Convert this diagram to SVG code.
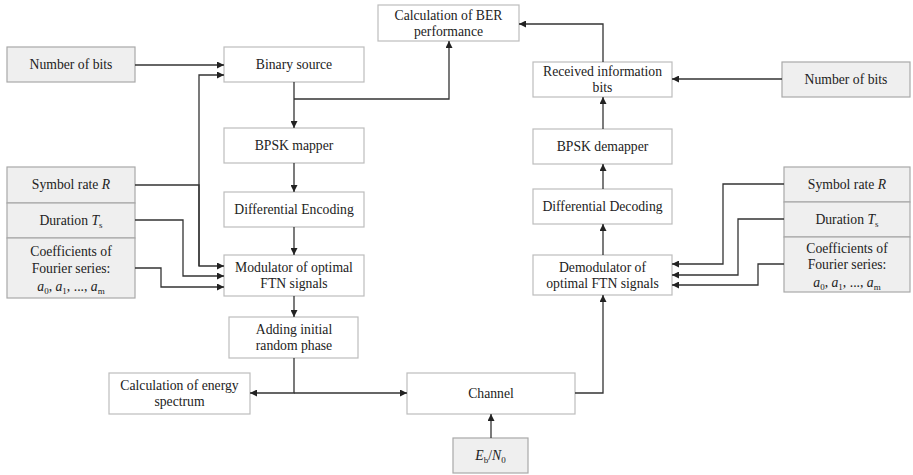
<svg xmlns="http://www.w3.org/2000/svg" width="913" height="475" viewBox="0 0 913 475" font-family="'Liberation Serif', serif">
<style>
.box{fill:#fff;stroke:#bdbdbd;stroke-width:1.2}
.inp{fill:#efefef;stroke:#a8a8a8;stroke-width:1.2}
text{font-family:'Liberation Serif','DejaVu Serif',serif;font-size:13.7px;fill:#222;text-anchor:middle}
.it{font-style:italic}
.sub{font-size:9px}
.wire{fill:none;stroke:#333;stroke-width:1.3}
</style>
<defs>
<marker id="ah" viewBox="0 0 10 10" refX="10" refY="5" markerWidth="7" markerHeight="7" markerUnits="userSpaceOnUse" orient="auto">
<path d="M0,0 L10,5 L0,10 Z" fill="#222"/>
</marker>
</defs>

<!-- transmitter chain -->
<g id="ber"><rect class="box" x="378" y="5" width="141" height="36"/><text x="448.5" y="20">Calculation of BER</text><text x="448.5" y="36">performance</text></g>
<g id="nbits-left"><rect class="inp" x="7" y="47" width="128" height="35"/><text x="71" y="69">Number of bits</text></g>
<g id="binary-source"><rect class="box" x="224" y="47" width="140" height="35"/><text x="294" y="69">Binary source</text></g>
<g id="bpsk-mapper"><rect class="box" x="224" y="128" width="140" height="35"/><text x="294" y="150">BPSK mapper</text></g>
<g id="diff-enc"><rect class="box" x="224" y="192" width="140" height="35"/><text x="294" y="214">Differential Encoding</text></g>
<g id="modulator"><rect class="box" x="224" y="255" width="140" height="41"/><text x="294" y="272">Modulator of optimal</text><text x="294" y="288">FTN signals</text></g>
<g id="phase"><rect class="box" x="229" y="317" width="129" height="41"/><text x="294" y="334">Adding initial</text><text x="294" y="350">random phase</text></g>
<g id="energy"><rect class="box" x="109" y="373" width="141" height="41"/><text x="179.5" y="390">Calculation of energy</text><text x="179.5" y="406">spectrum</text></g>
<g id="channel"><rect class="box" x="407" y="373" width="168" height="41"/><text x="491" y="398">Channel</text></g>
<g id="ebn0"><rect class="inp" x="453" y="438" width="75" height="35"/><text x="490.5" y="460"><tspan class="it">E</tspan><tspan class="sub" dy="3">b</tspan><tspan dy="-3">/</tspan><tspan class="it">N</tspan><tspan class="sub" dy="3">0</tspan></text></g>

<!-- left parameter inputs -->
<g id="rate-left"><rect class="inp" x="7" y="167" width="128" height="36"/><text x="71" y="189">Symbol rate <tspan class="it">R</tspan></text></g>
<g id="dur-left"><rect class="inp" x="7" y="203" width="128" height="35"/><text x="71" y="225">Duration <tspan class="it">T</tspan><tspan class="sub" dy="3">s</tspan></text></g>
<g id="coef-left"><rect class="inp" x="7" y="238" width="128" height="60"/><text x="71" y="256">Coefficients of</text><text x="71" y="273">Fourier series:</text><text x="71" y="291"><tspan class="it">a</tspan><tspan class="sub" dy="3">0</tspan><tspan dy="-3">, </tspan><tspan class="it">a</tspan><tspan class="sub" dy="3">1</tspan><tspan dy="-3">, ..., </tspan><tspan class="it">a</tspan><tspan class="sub" dy="3">m</tspan></text></g>

<!-- receiver chain -->
<g id="received"><rect class="box" x="533" y="62" width="139" height="35"/><text x="602.5" y="76">Received information</text><text x="602.5" y="92">bits</text></g>
<g id="nbits-right"><rect class="inp" x="782" y="62" width="128" height="35"/><text x="846" y="84">Number of bits</text></g>
<g id="bpsk-demapper"><rect class="box" x="533" y="129" width="139" height="35"/><text x="602.5" y="151">BPSK demapper</text></g>
<g id="diff-dec"><rect class="box" x="533" y="189" width="139" height="35"/><text x="602.5" y="211">Differential Decoding</text></g>
<g id="demodulator"><rect class="box" x="533" y="255" width="139" height="40"/><text x="602.5" y="272">Demodulator of</text><text x="602.5" y="288">optimal FTN signals</text></g>

<!-- right parameter inputs -->
<g id="rate-right"><rect class="inp" x="784" y="167" width="126" height="35"/><text x="847" y="189">Symbol rate <tspan class="it">R</tspan></text></g>
<g id="dur-right"><rect class="inp" x="784" y="202" width="126" height="35"/><text x="847" y="224">Duration <tspan class="it">T</tspan><tspan class="sub" dy="3">s</tspan></text></g>
<g id="coef-right"><rect class="inp" x="784" y="237" width="126" height="55"/><text x="847" y="253">Coefficients of</text><text x="847" y="269">Fourier series:</text><text x="847" y="287"><tspan class="it">a</tspan><tspan class="sub" dy="3">0</tspan><tspan dy="-3">, </tspan><tspan class="it">a</tspan><tspan class="sub" dy="3">1</tspan><tspan dy="-3">, ..., </tspan><tspan class="it">a</tspan><tspan class="sub" dy="3">m</tspan></text></g>

<g id="connectors">
<path class="wire" d="M135,65 H224" marker-end="url(#ah)"/>
<path class="wire" d="M199,266 V75 H224" marker-end="url(#ah)"/>
<path class="wire" d="M135,185 H199 V266 H224" marker-end="url(#ah)"/>
<path class="wire" d="M135,220 H183 V276 H224" marker-end="url(#ah)"/>
<path class="wire" d="M135,268 H161 V287 H224" marker-end="url(#ah)"/>
<path class="wire" d="M294,82 V128" marker-end="url(#ah)"/>
<path class="wire" d="M294,99 H449 V41" marker-end="url(#ah)"/>
<path class="wire" d="M294,163 V192" marker-end="url(#ah)"/>
<path class="wire" d="M294,227 V255" marker-end="url(#ah)"/>
<path class="wire" d="M294,296 V317" marker-end="url(#ah)"/>
<path class="wire" d="M294,358 V393 H250" marker-end="url(#ah)"/>
<path class="wire" d="M294,393 H407" marker-end="url(#ah)"/>
<path class="wire" d="M491,438 V414" marker-end="url(#ah)"/>
<path class="wire" d="M575,393 H603 V295" marker-end="url(#ah)"/>
<path class="wire" d="M603,255 V224" marker-end="url(#ah)"/>
<path class="wire" d="M603,189 V164" marker-end="url(#ah)"/>
<path class="wire" d="M603,129 V97" marker-end="url(#ah)"/>
<path class="wire" d="M603,62 V24 H519" marker-end="url(#ah)"/>
<path class="wire" d="M782,79 H672" marker-end="url(#ah)"/>
<path class="wire" d="M784,184 H723 V264 H672" marker-end="url(#ah)"/>
<path class="wire" d="M784,219 H738 V275 H672" marker-end="url(#ah)"/>
<path class="wire" d="M784,264 H758 V285 H672" marker-end="url(#ah)"/>
</g>
</svg>
